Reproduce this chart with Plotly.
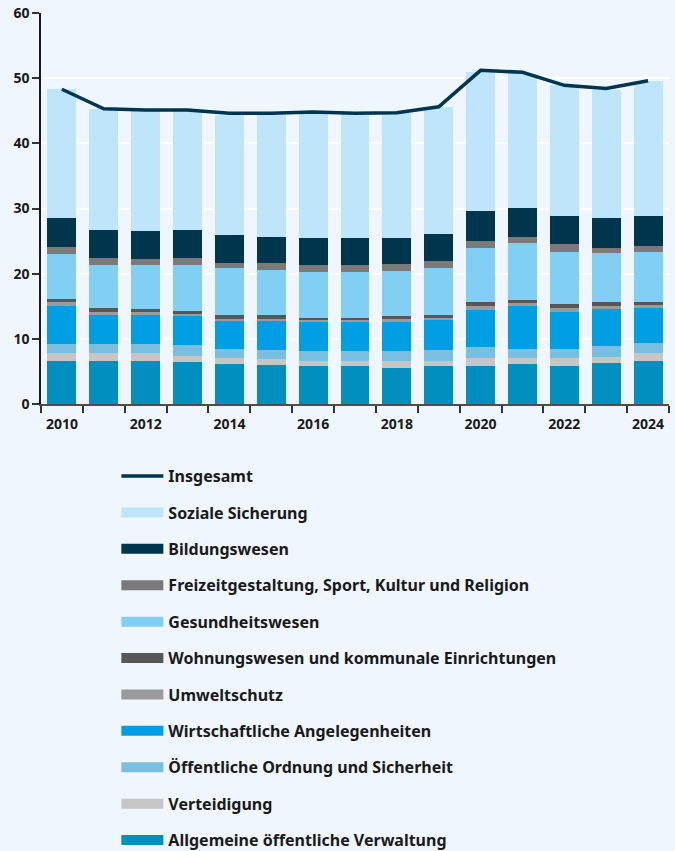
import plotly.graph_objects as go

years = list(range(2010, 2025))

# Components in stacking order (bottom to top), values in Mrd. EUR
allgemeine = [6.6, 6.6, 6.6, 6.5, 6.1, 6.0, 5.8, 5.8, 5.5, 5.8, 5.8, 6.1, 5.8, 6.3, 6.6]
verteidigung = [1.2, 1.2, 1.2, 0.9, 0.9, 0.9, 0.8, 0.8, 1.1, 0.8, 1.2, 0.9, 1.2, 0.9, 1.2]
oeffentliche_ordnung = [1.4, 1.4, 1.4, 1.7, 1.5, 1.4, 1.5, 1.5, 1.5, 1.7, 1.7, 1.5, 1.4, 1.7, 1.5]
wirtschaft = [5.8, 4.4, 4.4, 4.5, 4.3, 4.5, 4.5, 4.5, 4.6, 4.6, 5.8, 6.6, 5.7, 5.8, 5.4]
umweltschutz = [0.6, 0.5, 0.5, 0.3, 0.3, 0.3, 0.3, 0.3, 0.3, 0.3, 0.5, 0.5, 0.6, 0.3, 0.5]
wohnungswesen = [0.5, 0.6, 0.5, 0.3, 0.6, 0.5, 0.3, 0.3, 0.5, 0.5, 0.6, 0.3, 0.6, 0.6, 0.5]
gesundheit = [6.9, 6.6, 6.8, 7.1, 7.1, 6.9, 7.1, 7.1, 6.9, 7.1, 8.3, 8.8, 8.1, 7.5, 7.7]
freizeit = [1.1, 1.1, 0.9, 1.1, 0.8, 1.1, 1.1, 1.1, 1.1, 1.2, 1.1, 0.9, 1.1, 0.9, 0.9]
bildung = [4.5, 4.3, 4.2, 4.3, 4.3, 4.1, 4.0, 4.0, 4.0, 4.1, 4.6, 4.5, 4.3, 4.5, 4.6]
soziale_sicherung = [19.7, 18.6, 18.6, 18.3, 18.4, 18.7, 19.3, 19.2, 19.1, 19.4, 21.4, 20.6, 20.1, 19.7, 20.6]

insgesamt = [48.3, 45.3, 45.1, 45.1, 44.6, 44.6, 44.8, 44.6, 44.7, 45.6, 51.2, 50.9, 48.9, 48.4, 49.6]

series = [
    ("Allgemeine öffentliche Verwaltung", allgemeine, "#008fbe"),
    ("Verteidigung", verteidigung, "#c6c6c6"),
    ("Öffentliche Ordnung und Sicherheit", oeffentliche_ordnung, "#79bfe2"),
    ("Wirtschaftliche Angelegenheiten", wirtschaft, "#009fe3"),
    ("Umweltschutz", umweltschutz, "#9b9b9b"),
    ("Wohnungswesen und kommunale Einrichtungen", wohnungswesen, "#575757"),
    ("Gesundheitswesen", gesundheit, "#82cff4"),
    ("Freizeitgestaltung, Sport, Kultur und Religion", freizeit, "#7a7a7a"),
    ("Bildungswesen", bildung, "#00354e"),
    ("Soziale Sicherung", soziale_sicherung, "#bee5f9"),
]

BG = "#eff6fe"
FONT = "Noto Sans"
TEXT = "#1a1a1a"

fig = go.Figure()

n = len(series)
for i, (name, vals, color) in enumerate(series):
    fig.add_trace(go.Bar(
        x=years, y=vals, name=name, marker=dict(color=color, line=dict(width=0)),
        width=0.69, legendgroup=name, showlegend=False,
    ))
    # wide rectangular legend key drawn as a thick line entry
    fig.add_trace(go.Scatter(
        x=[None], y=[None], mode="lines", name=name, legendgroup=name,
        line=dict(color=color, width=12), legendrank=2 + (n - 1 - i),
        showlegend=True,
    ))

# total drawn last so it sits above the bars
fig.add_trace(go.Scatter(
    x=years, y=insgesamt, mode="lines", name="Insgesamt",
    line=dict(color="#003550", width=3.5), legendrank=1, legendgroup="Insgesamt",
))

fig.update_layout(
    barmode="stack",
    width=675, height=851,
    margin=dict(l=41, r=6, t=13, b=447, autoexpand=False),
    paper_bgcolor=BG, plot_bgcolor=BG,
    font=dict(family=FONT, size=15, color=TEXT),
    showlegend=True,
    legend=dict(
        orientation="v", x=0.12, xanchor="left", y=-0.141, yanchor="top",
        traceorder="grouped", tracegroupgap=12.6, itemwidth=42,
        font=dict(family=FONT, size=16, color=TEXT, weight="bold"),
        bgcolor="rgba(0,0,0,0)",
    ),
    xaxis=dict(
        range=[2009.5, 2024.5], tickmode="array", tickvals=list(range(2010, 2025, 2)),
        ticktext=[str(y) for y in range(2010, 2025, 2)], ticks="",
        showgrid=False, showline=True, linecolor="#4d4d4d", linewidth=2,
        tickfont=dict(family=FONT, size=14, color=TEXT, weight="bold"),
        ticklabelstandoff=6,
        minor=dict(ticks="outside", tickmode="linear", tick0=2009.5, dtick=1,
                   ticklen=7, tickwidth=2, tickcolor="#333333", showgrid=False),
        zeroline=False, automargin=False,
    ),
    yaxis=dict(
        range=[0, 60], dtick=10, showgrid=True, gridcolor="#ffffff", gridwidth=1.5,
        ticks="outside", ticklen=7, tickwidth=2, tickcolor="#333333",
        showline=True, linecolor="#1a1a1a", linewidth=1.5,
        tickfont=dict(family=FONT, size=14, color=TEXT, weight="bold"),
        zeroline=False, automargin=False,
    ),
)

fig.write_html("out.html")
